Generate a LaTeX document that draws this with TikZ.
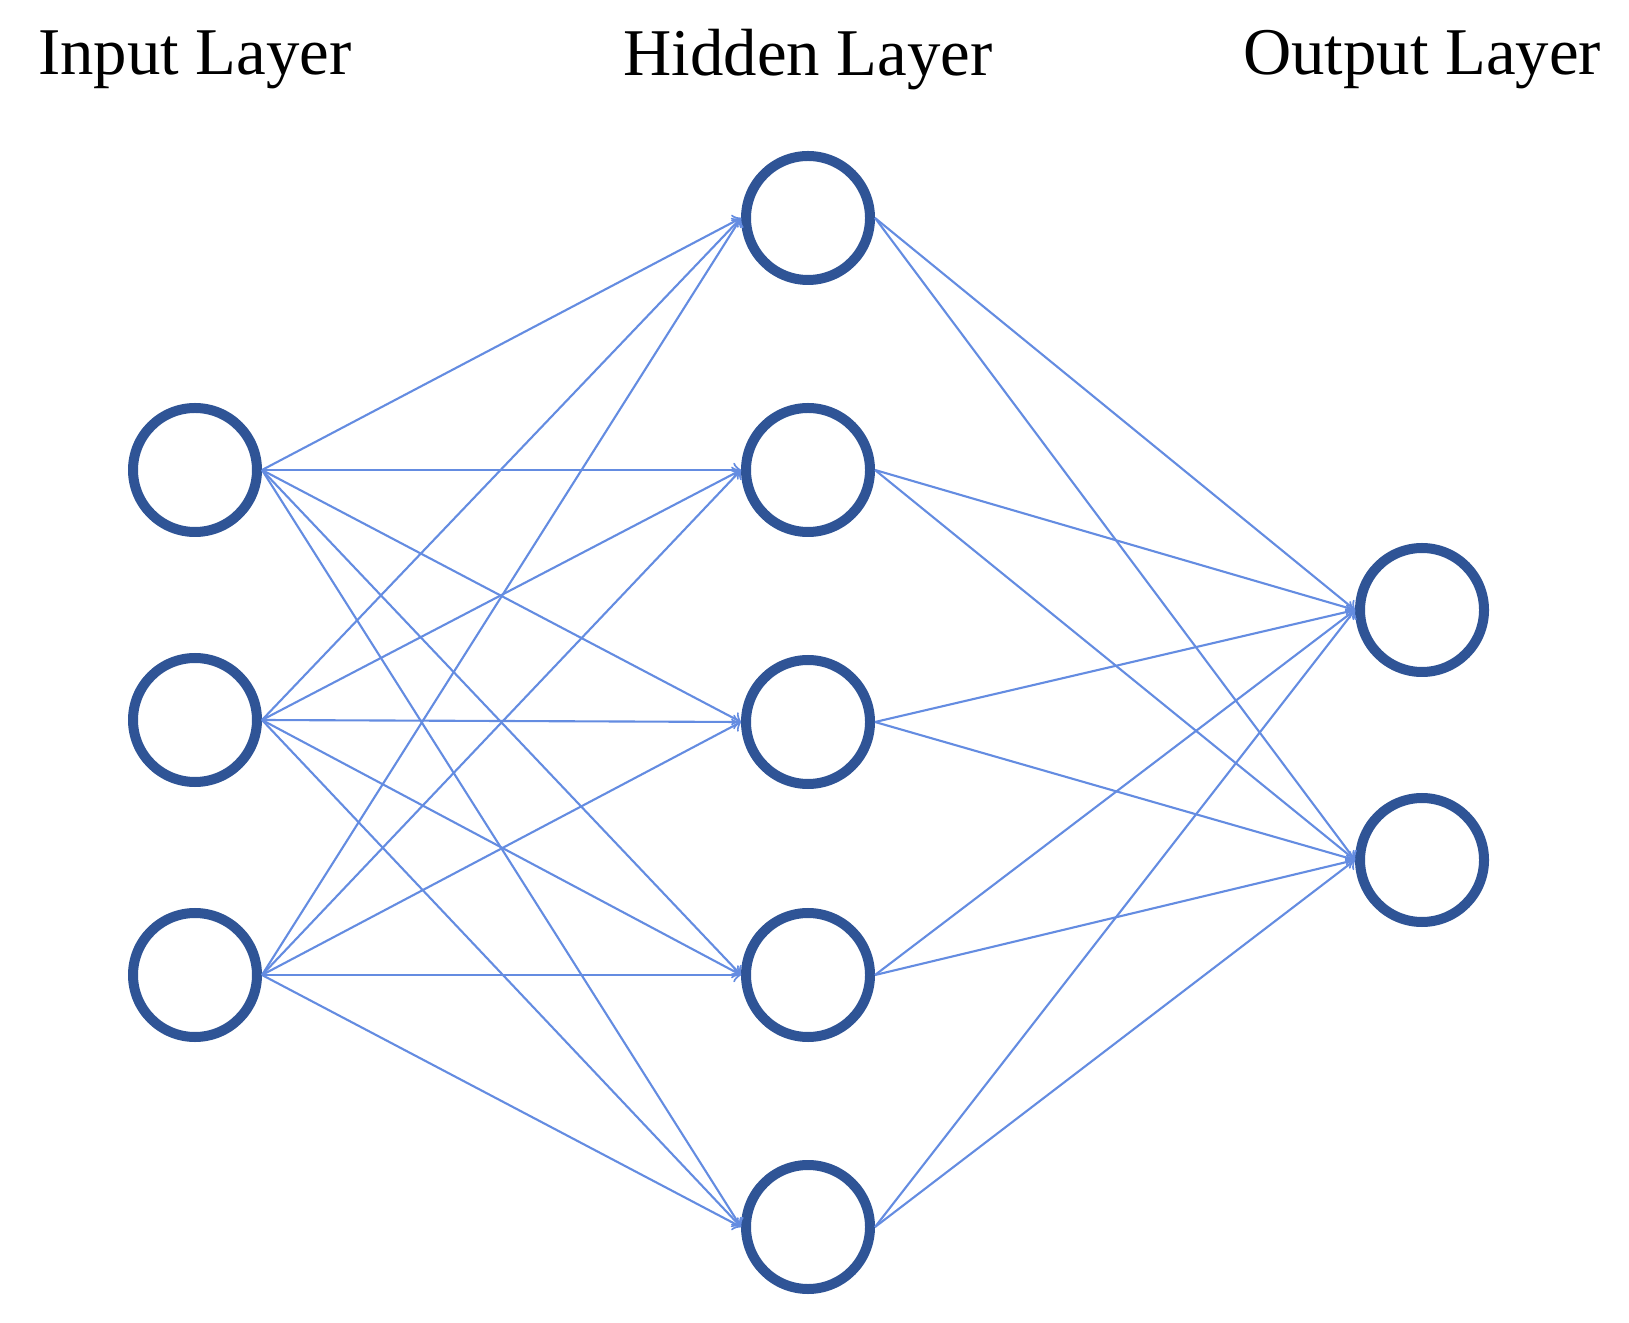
\documentclass[tikz,border=0pt]{standalone}
\usepackage{fontspec}
\setmainfont{Liberation Serif}
\usetikzlibrary{arrows,positioning}
\definecolor{nodeblue}{RGB}{47,84,150}
\definecolor{edgeblue}{RGB}{100,140,225}
\tikzset{
    % Neuron style
    neuron/.style={
        circle, draw=nodeblue, line width=0.1cm, fill=white,
        minimum size=1.24cm, inner sep=0pt
    },
    % Connection style
    link/.style={
        draw=edgeblue, line width=0.6pt, ->, >=to
    },
    % Title style
    title/.style={
        font=\fontsize{19}{22}\selectfont
    }
}
\begin{document}
\begin{tikzpicture}

\useasboundingbox (0,0) rectangle (16.29,13.22);

% Layer titles
\node[title] (tin) at (1.95,12.62) {Input Layer};
\node[title] (thid) at (8.08,12.62) {Hidden Layer};
\node[title] (tout) at (14.22,12.62) {Output Layer};

% Input layer
\foreach \i/\y in {1/8.52, 2/6.02, 3/3.47}
    \node[neuron] (in\i) at (1.95,\y) {};

% Hidden layer
\foreach \i/\y in {1/11.04, 2/8.52, 3/6.00, 4/3.47, 5/0.95}
    \node[neuron] (hid\i) at (8.08,\y) {};

% Output layer
\foreach \i/\y in {1/7.12, 2/4.62}
    \node[neuron] (out\i) at (14.22,\y) {};

% Connections
\foreach \i in {1,...,3}
    \foreach \j in {1,...,5}
        \draw[link] (in\i.east) -- (hid\j.west);
\foreach \j in {1,...,5}
    \foreach \k in {1,2}
        \draw[link] (hid\j.east) -- (out\k.west);

\end{tikzpicture}
\end{document}
